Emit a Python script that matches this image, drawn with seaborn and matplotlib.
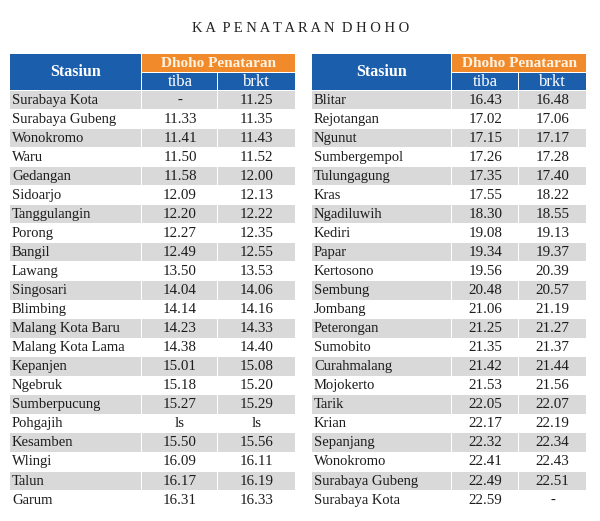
import matplotlib
matplotlib.use("Agg")
import matplotlib.pyplot as plt
import seaborn as sns
import pandas as pd
from matplotlib.patches import Rectangle

# Data
title = "KA PENATARAN DHOHO"
train_name = "Dhoho Penataran"
head_station = "Stasiun"
head_arr = "tiba"
head_dep = "brkt"

left_stations = ["Surabaya Kota", "Surabaya Gubeng", "Wonokromo", "Waru", "Gedangan",
                 "Sidoarjo", "Tanggulangin", "Porong", "Bangil", "Lawang", "Singosari",
                 "Blimbing", "Malang Kota Baru", "Malang Kota Lama", "Kepanjen", "Ngebruk",
                 "Sumberpucung", "Pohgajih", "Kesamben", "Wlingi", "Talun", "Garum"]
left_tiba = ["-", "11.33", "11.41", "11.50", "11.58", "12.09", "12.20", "12.27", "12.49",
             "13.50", "14.04", "14.14", "14.23", "14.38", "15.01", "15.18", "15.27", "ls",
             "15.50", "16.09", "16.17", "16.31"]
left_brkt = ["11.25", "11.35", "11.43", "11.52", "12.00", "12.13", "12.22", "12.35", "12.55",
             "13.53", "14.06", "14.16", "14.33", "14.40", "15.08", "15.20", "15.29", "ls",
             "15.56", "16.11", "16.19", "16.33"]

right_stations = ["Blitar", "Rejotangan", "Ngunut", "Sumbergempol", "Tulungagung", "Kras",
                  "Ngadiluwih", "Kediri", "Papar", "Kertosono", "Sembung", "Jombang",
                  "Peterongan", "Sumobito", "Curahmalang", "Mojokerto", "Tarik", "Krian",
                  "Sepanjang", "Wonokromo", "Surabaya Gubeng", "Surabaya Kota"]
right_tiba = ["16.43", "17.02", "17.15", "17.26", "17.35", "17.55", "18.30", "19.08", "19.34",
              "19.56", "20.48", "21.06", "21.25", "21.35", "21.42", "21.53", "22.05", "22.17",
              "22.32", "22.41", "22.49", "22.59"]
right_brkt = ["16.48", "17.06", "17.17", "17.28", "17.40", "18.22", "18.55", "19.13", "19.37",
              "20.39", "20.57", "21.19", "21.27", "21.37", "21.44", "21.56", "22.07", "22.19",
              "22.34", "22.43", "22.51", "-"]

left_df = pd.DataFrame({"station": left_stations, "tiba": left_tiba, "brkt": left_brkt})
right_df = pd.DataFrame({"station": right_stations, "tiba": right_tiba, "brkt": right_brkt})

# Style
sns.set_style("white")
plt.rcParams["font.family"] = ["Liberation Serif", "DejaVu Serif"]

BLUE = "#1b5eab"
ORANGE = "#f18a2b"
GRAY = "#d9d9d9"
TEXT = "#1c1c1c"

fig = plt.figure(figsize=(6, 5.21), dpi=100)
ax = fig.add_axes([0, 0, 1, 1])
ax.set_xlim(0, 600)
ax.set_ylim(521, 0)
ax.axis("off")

ax.text(301, 28, " ".join(title).replace("   ", "  "), ha="center", va="center",
        fontsize=10.5, color="#222222")

top, mid, head_bottom, row_h = 54, 73, 90, 19.05


def draw_table(df, edges):
    x0, x1, x2, x3 = edges
    # header
    ax.add_patch(Rectangle((x0, top), x1 - x0 - 1.5, head_bottom - top, color=BLUE, lw=0))
    ax.add_patch(Rectangle((x1, top), x3 - x1, mid - top - 1, color=ORANGE, lw=0))
    ax.add_patch(Rectangle((x1, mid), x2 - x1 - 1.5, head_bottom - mid, color=BLUE, lw=0))
    ax.add_patch(Rectangle((x2, mid), x3 - x2, head_bottom - mid, color=BLUE, lw=0))
    ax.text((x0 + x1) / 2, (top + head_bottom) / 2, head_station, ha="center", va="center",
            fontsize=11.5, fontweight="bold", color="white")
    ax.text((x1 + x3) / 2, (top + mid) / 2, train_name, ha="center", va="center",
            fontsize=11, fontweight="bold", color="#fff4e4")
    ax.text((x1 + x2) / 2, (mid + head_bottom) / 2, head_arr, ha="center", va="center",
            fontsize=12, color="white")
    ax.text((x2 + x3) / 2, (mid + head_bottom) / 2, head_dep, ha="center", va="center",
            fontsize=12, color="white")
    # body
    for i, row in df.iterrows():
        y = head_bottom + i * row_h
        if i % 2 == 0:
            ax.add_patch(Rectangle((x0, y + 0.5), x1 - x0 - 1.5, row_h - 0.5, color=GRAY, lw=0))
            ax.add_patch(Rectangle((x1, y + 0.5), x2 - x1 - 1.5, row_h - 0.5, color=GRAY, lw=0))
            ax.add_patch(Rectangle((x2, y + 0.5), x3 - x2, row_h - 0.5, color=GRAY, lw=0))
        yc = y + row_h / 2 + 0.5
        ax.text(x0 + 2, yc, row["station"], ha="left", va="center", fontsize=10.5, color=TEXT)
        ax.text((x1 + x2) / 2, yc, row["tiba"], ha="center", va="center", fontsize=10.8, color=TEXT)
        ax.text((x2 + x3) / 2, yc, row["brkt"], ha="center", va="center", fontsize=10.8, color=TEXT)


draw_table(left_df, [10, 142, 218, 295])
draw_table(right_df, [312, 452, 519, 586])

fig.savefig("out.png", dpi=100)
